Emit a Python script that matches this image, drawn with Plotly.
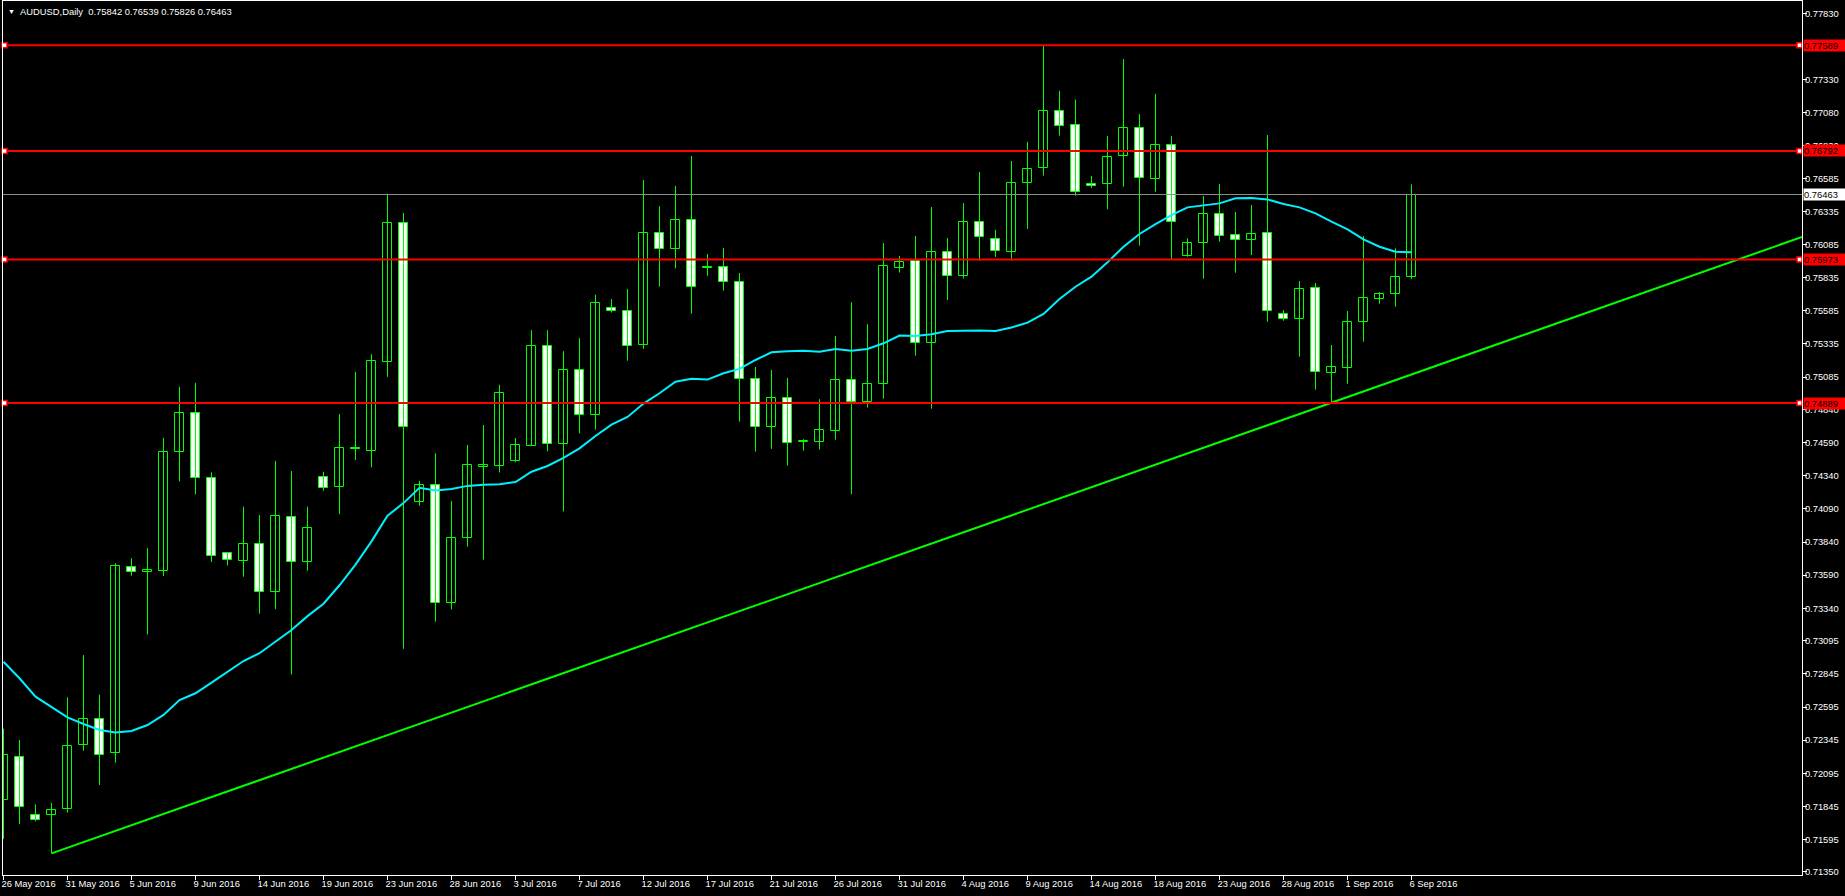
import plotly.graph_objects as go
import pandas as pd

# ---------------- data ----------------
symbol_title = "AUDUSD,Daily"
header_ohlc = ["0.75842", "0.76539", "0.75826", "0.76463"]

# one bar per trading day (broker feed includes Sunday bars)
dates = [d for d in pd.date_range("2016-05-26", "2016-09-06", freq="D") if d.weekday() != 5]

opens = [0.71892, 0.72221, 0.71777, 0.71781, 0.71822, 0.72311, 0.72508, 0.72245, 0.73649, 0.73611,
         0.73624, 0.74522, 0.74817, 0.74321, 0.73760, 0.73694, 0.73829, 0.73465, 0.74026, 0.73687,
         0.74328, 0.74252, 0.74553, 0.74530, 0.75197, 0.76245, 0.74146, 0.74267, 0.73378, 0.73874,
         0.74410, 0.74417, 0.74455, 0.74567, 0.75318, 0.74582, 0.75142, 0.74796, 0.75610, 0.75581,
         0.75324, 0.76176, 0.76049, 0.76274, 0.75914, 0.75914, 0.75801, 0.75069, 0.74711, 0.74925,
         0.74592, 0.74598, 0.74681, 0.75061, 0.74895, 0.75031, 0.75906, 0.75959, 0.75340, 0.76027,
         0.75851, 0.76253, 0.76125, 0.76027, 0.76548, 0.76661, 0.77091, 0.76985, 0.76540, 0.76540,
         0.76751, 0.76962, 0.76577, 0.76834, 0.75996, 0.76094, 0.76313, 0.76155, 0.76117, 0.76170,
         0.75558, 0.75521, 0.75755, 0.75113, 0.75151, 0.75498, 0.75672, 0.75709, 0.75842]
highs = [0.72432, 0.72346, 0.71860, 0.71871, 0.72668, 0.72987, 0.72689, 0.73680, 0.73718, 0.73794,
         0.74626, 0.75011, 0.75042, 0.74366, 0.73760, 0.74106, 0.74044, 0.74453, 0.74376, 0.74106,
         0.74370, 0.74806, 0.75125, 0.75258, 0.76468, 0.76323, 0.74302, 0.74510, 0.74149, 0.74573,
         0.74723, 0.75027, 0.74625, 0.75440, 0.75440, 0.75281, 0.75379, 0.75708, 0.75674, 0.75749,
         0.76572, 0.76375, 0.76528, 0.76754, 0.76014, 0.76060, 0.75871, 0.75162, 0.75139, 0.75079,
         0.74616, 0.74918, 0.75396, 0.75650, 0.75484, 0.76097, 0.75999, 0.76150, 0.76369, 0.76135,
         0.76399, 0.76633, 0.76196, 0.76716, 0.76860, 0.77589, 0.77245, 0.77180, 0.76602, 0.76904,
         0.77486, 0.77070, 0.77222, 0.76904, 0.76132, 0.76451, 0.76542, 0.76331, 0.76384, 0.76912,
         0.75591, 0.75810, 0.75795, 0.75327, 0.75584, 0.76150, 0.75727, 0.76057, 0.76539]
lows = [0.71600, 0.71711, 0.71732, 0.71490, 0.71798, 0.72266, 0.72006, 0.72176, 0.73586, 0.73143,
        0.73583, 0.74297, 0.74200, 0.73690, 0.73663, 0.73579, 0.73299, 0.73333, 0.72841, 0.73624,
        0.74227, 0.74051, 0.74460, 0.74403, 0.75087, 0.73034, 0.74114, 0.73239, 0.73331, 0.73805,
        0.73707, 0.74365, 0.74443, 0.74567, 0.74524, 0.74071, 0.74660, 0.74689, 0.75572, 0.75209,
        0.75298, 0.75769, 0.75905, 0.75564, 0.75850, 0.75738, 0.74749, 0.74523, 0.74543, 0.74417,
        0.74530, 0.74538, 0.74613, 0.74201, 0.74855, 0.74923, 0.75874, 0.75247, 0.74847, 0.75667,
        0.75828, 0.75964, 0.75992, 0.75964, 0.76203, 0.76606, 0.76908, 0.76454, 0.76512, 0.76351,
        0.76522, 0.76077, 0.76484, 0.75976, 0.75994, 0.75828, 0.76107, 0.75873, 0.76006, 0.75503,
        0.75511, 0.75239, 0.74990, 0.74892, 0.75035, 0.75352, 0.75639, 0.75616, 0.75826]
closes = [0.72231, 0.71843, 0.71739, 0.71815, 0.72304, 0.72508, 0.72235, 0.73656, 0.73614, 0.73628,
          0.74522, 0.74817, 0.74321, 0.73732, 0.73704, 0.73829, 0.73465, 0.74033, 0.73687, 0.73943,
          0.74245, 0.74553, 0.74539, 0.75203, 0.76245, 0.74706, 0.74267, 0.73383, 0.73869, 0.74420,
          0.74418, 0.74963, 0.74570, 0.75318, 0.74582, 0.75142, 0.74796, 0.75642, 0.75581, 0.75318,
          0.76176, 0.76049, 0.76268, 0.75763, 0.75906, 0.75801, 0.75069, 0.74706, 0.74925, 0.74591,
          0.74600, 0.74684, 0.75061, 0.74895, 0.75031, 0.75921, 0.75952, 0.75340, 0.76027, 0.75851,
          0.76253, 0.76145, 0.76035, 0.76548, 0.76653, 0.77091, 0.76978, 0.76479, 0.76524, 0.76743,
          0.76962, 0.76585, 0.76834, 0.76253, 0.76094, 0.76313, 0.76152, 0.76117, 0.76162, 0.75581,
          0.75521, 0.75747, 0.75121, 0.75158, 0.75498, 0.75679, 0.75709, 0.75838, 0.76463]

# moving average as drawn on the chart (cyan line)
ma_values = [0.72937, 0.72812, 0.72673, 0.72598, 0.72517, 0.72467, 0.72422, 0.72402, 0.72414, 0.72459,
             0.72535, 0.72648, 0.72699, 0.72779, 0.72862, 0.72942, 0.73001, 0.73088, 0.73176, 0.73281,
             0.73375, 0.73514, 0.73670, 0.73845, 0.74039, 0.74134, 0.74250, 0.74230, 0.74241, 0.74264,
             0.74273, 0.74276, 0.74293, 0.74371, 0.74414, 0.74475, 0.74547, 0.74640, 0.74726, 0.74784,
             0.74885, 0.74963, 0.75050, 0.75073, 0.75066, 0.75114, 0.75147, 0.75214, 0.75272, 0.75280,
             0.75283, 0.75277, 0.75297, 0.75283, 0.75297, 0.75340, 0.75398, 0.75395, 0.75408, 0.75433,
             0.75436, 0.75436, 0.75433, 0.75459, 0.75496, 0.75562, 0.75675, 0.75767, 0.75843, 0.75951,
             0.76069, 0.76165, 0.76240, 0.76308, 0.76366, 0.76379, 0.76396, 0.76434, 0.76437, 0.76426,
             0.76391, 0.76366, 0.76321, 0.76258, 0.76200, 0.76124, 0.76069, 0.76031, 0.76028]

# horizontal support / resistance levels and last price
levels = [0.77589, 0.76792, 0.75973, 0.74889]
last_price = 0.76463

# trend line anchors (bar number, price); drawn as a ray to the right
trend_bars = [3, 83]
trend_prices = [0.71490, 0.74892]

# price-scale labels
y_tick_values = [0.77830, 0.77330, 0.77080, 0.76830, 0.76585, 0.76335, 0.76085, 0.75835, 0.75585,
                 0.75335, 0.75085, 0.74840, 0.74590, 0.74340, 0.74090, 0.73840, 0.73590, 0.73340,
                 0.73095, 0.72845, 0.72595, 0.72345, 0.72095, 0.71845, 0.71595, 0.71350]
# time-scale labels (every 4th bar)
x_tick_bars = list(range(0, 89, 4))
x_tick_labels = ["26 May 2016", "31 May 2016", "5 Jun 2016", "9 Jun 2016", "14 Jun 2016",
                 "19 Jun 2016", "23 Jun 2016", "28 Jun 2016", "3 Jul 2016", "7 Jul 2016",
                 "12 Jul 2016", "17 Jul 2016", "21 Jul 2016", "26 Jul 2016", "31 Jul 2016",
                 "4 Aug 2016", "9 Aug 2016", "14 Aug 2016", "18 Aug 2016", "23 Aug 2016",
                 "28 Aug 2016", "1 Sep 2016", "6 Sep 2016"]

# ---------------- layout constants ----------------
W, H = 1845, 896
PL, PR, PT, PB = 3, 1802, 1, 875          # plot area in pixels
PX_PER_PRICE = 13250.0
BAR_PX = 16.0
FIRST_BAR_PX = 3.5
x_range = [(PL - FIRST_BAR_PX) / BAR_PX, (PR - FIRST_BAR_PX) / BAR_PX]
PRICE_AT_TOP_EDGE = 0.77931
y_range = [PRICE_AT_TOP_EDGE - PB / PX_PER_PRICE, PRICE_AT_TOP_EDGE - PT / PX_PER_PRICE]

GREEN = "#00FF00"
FONT = "Liberation Sans"
FS = 9.4

bars = list(range(len(opens)))

fig = go.Figure()

# wicks
wx, wy = [], []
for i in bars:
    wx += [i, i, None]
    wy += [lows[i], highs[i], None]
fig.add_trace(go.Scatter(x=wx, y=wy, mode="lines", line=dict(color=GREEN, width=1),
                         hoverinfo="skip"))

# bodies
body_base = [min(o, c) for o, c in zip(opens, closes)]
body_len = [max(abs(c - o), 0.00004) for o, c in zip(opens, closes)]
body_fill = ["#000000" if c >= o else "#FFFFFF" for o, c in zip(opens, closes)]
fig.add_trace(go.Bar(x=bars, y=body_len, base=body_base, width=0.6,
                     marker=dict(color=body_fill, line=dict(color=GREEN, width=1)),
                     customdata=[d.strftime("%Y-%m-%d") for d in dates],
                     hovertemplate="%{customdata}<extra></extra>"))

# moving average
fig.add_trace(go.Scatter(x=bars, y=ma_values, mode="lines",
                         line=dict(color="#00F0FF", width=2), hoverinfo="skip"))

# trend line ray
slope = (trend_prices[1] - trend_prices[0]) / (trend_bars[1] - trend_bars[0])
ray_end_x = x_range[1]
ray_end_y = trend_prices[0] + slope * (ray_end_x - trend_bars[0])
fig.add_trace(go.Scatter(x=[trend_bars[0], ray_end_x], y=[trend_prices[0], ray_end_y],
                         mode="lines", line=dict(color=GREEN, width=2), hoverinfo="skip"))

# last price line
fig.add_trace(go.Scatter(x=x_range, y=[last_price, last_price], mode="lines",
                         line=dict(color="#8C8C8C", width=1), hoverinfo="skip"))

# horizontal levels
left_marker_x = x_range[0] + 1.5 / BAR_PX
right_marker_x = x_range[1] - 2.5 / BAR_PX
for lv in levels:
    fig.add_trace(go.Scatter(x=x_range, y=[lv, lv], mode="lines",
                             line=dict(color="#FF0000", width=2), hoverinfo="skip"))
    fig.add_trace(go.Scatter(x=[left_marker_x, right_marker_x], y=[lv, lv], mode="markers",
                             marker=dict(symbol="square", size=5, color="#FFFFFF",
                                         line=dict(color="#FF0000", width=1.5)),
                             cliponaxis=False, hoverinfo="skip"))

annotations = []
for lv in levels:
    annotations.append(dict(x=1, xref="paper", y=lv, yref="y", xanchor="left", yanchor="middle",
                            xshift=1, text=f"{lv:.5f}", showarrow=False, bgcolor="#FF0000",
                            font=dict(family=FONT, size=FS, color="#000000"),
                            width=41, height=11, align="left", borderpad=0))
annotations.append(dict(x=1, xref="paper", y=last_price, yref="y", xanchor="left",
                        yanchor="middle", xshift=1, text=f"{last_price:.5f}", showarrow=False,
                        bgcolor="#FFFFFF", font=dict(family=FONT, size=FS, color="#000000"),
                        width=41, height=11, align="left", borderpad=0))
annotations.append(dict(x=0, xref="paper", y=1, yref="paper", xanchor="left", yanchor="top",
                        xshift=3, yshift=-5, text="\u25BC", showarrow=False,
                        font=dict(family=FONT, size=7, color="#FFFFFF")))
annotations.append(dict(x=0, xref="paper", y=1, yref="paper", xanchor="left", yanchor="top",
                        xshift=15, yshift=-3,
                        text=symbol_title + "\u00a0\u00a0" + " ".join(header_ohlc),
                        showarrow=False, font=dict(family=FONT, size=9.4, color="#FFFFFF")))

fig.update_layout(
    width=W, height=H,
    margin=dict(l=PL, r=W - PR, t=PT, b=H - PB, pad=0),
    paper_bgcolor="#000000", plot_bgcolor="#000000",
    showlegend=False, bargap=0, hovermode="closest",
    annotations=annotations,
    xaxis=dict(range=x_range, showgrid=False, zeroline=False, showline=True, mirror=True,
               linecolor="#FFFFFF", linewidth=1, ticks="outside", ticklen=4, tickwidth=1,
               tickcolor="#FFFFFF", tickvals=x_tick_bars, ticktext=x_tick_labels,
               tickangle=0, ticklabelposition="outside right", ticklabelshift=-3,
               ticklabeloverflow="allow",
               tickfont=dict(family=FONT, size=FS, color="#FFFFFF"), fixedrange=True),
    yaxis=dict(range=y_range, side="right", showgrid=False, zeroline=False, showline=True,
               mirror=True, linecolor="#FFFFFF", linewidth=1, ticks="outside", ticklen=4,
               tickwidth=1, tickcolor="#FFFFFF", tickvals=y_tick_values,
               ticktext=[f"{v:.5f}" for v in y_tick_values], ticklabelstandoff=-4,
               tickfont=dict(family=FONT, size=FS, color="#FFFFFF"), fixedrange=True),
)

fig.write_html("out.html", config={"displayModeBar": False},
               post_script="document.body.style.margin='0';document.body.style.overflow='hidden';")
